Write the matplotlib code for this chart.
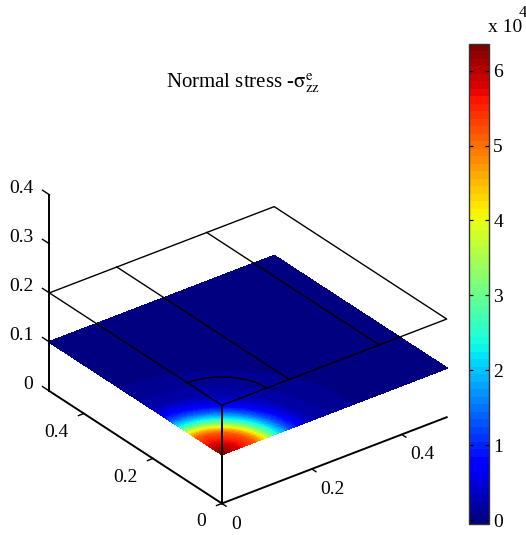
import numpy as np
import matplotlib
matplotlib.use('Agg')
import matplotlib.pyplot as plt

plt.rcParams['font.family'] = ['Liberation Serif', 'DejaVu Serif']
plt.rcParams['mathtext.fontset'] = 'stix'

r_read = [0, 0.027, 0.068, 0.08, 0.092, 0.104, 0.12, 0.145, 0.17, 0.20, 0.25, 0.30, 0.50, 0.71]
stress_read = [6.3, 5.9, 5.2, 4.7, 4.0, 3.15, 2.3, 1.3, 0.6, 0.25, 0.1, 0.04, 0.0, 0.0]

x_ticks = [0, 0.2, 0.4]
y_ticks = [0, 0.2, 0.4]
z_ticks = [0, 0.1, 0.2, 0.3, 0.4]
cbar_ticks = [0, 1, 2, 3, 4, 5, 6]

# outline of the load plane above the surface
plane_z = 0.2
plane_size = 0.5
footing_x = [0.15, 0.35]
arc_radius = 0.1
surface_z = 0.1

W, H = 526, 535
fig = plt.figure(figsize=(W / 100, H / 100), dpi=100)

# same view as matlab default, axes size picked so 1 data unit is about 566 px
side = 447
cx, cy = 242, 312
ax = fig.add_axes(
    [(cx - side / 2) / W, 1 - (cy + side / 2) / H, side / W, side / H],
    projection='3d',
    computed_zorder=False,
)
ax.set_proj_type('ortho')
ax.view_init(elev=30, azim=-127.5)
ax.set_xlim(0, 0.5)
ax.set_ylim(0, 0.5)
ax.set_zlim(0, 0.4)
ax.set_box_aspect((0.5, 0.5, 0.4))
ax.set_xticks([])
ax.set_yticks([])
ax.set_zticks([])
ax.set_axis_off()
ax.patch.set_alpha(0)

cmap = plt.get_cmap('jet', 64)
vmin, vmax = -0.05, 6.355

# fine mesh only to shade between the read values, like interp shading
gx, gy = np.meshgrid(np.linspace(0, 0.5, 170), np.linspace(0, 0.5, 170))
field = np.interp(np.hypot(gx, gy), r_read, stress_read)
ax.plot_surface(
    gx,
    gy,
    np.full(gx.shape, surface_z),
    facecolors=cmap((field - vmin) / (vmax - vmin)),
    rstride=1,
    cstride=1,
    shade=False,
    antialiased=False,
    linewidth=0.6,
    zorder=1,
)

line = dict(color='black', lw=1.0, zorder=3)
axis_line = dict(color='black', lw=1.4, zorder=3)

# plane outline
ax.plot(
    [0, plane_size, plane_size, 0, 0],
    [0, 0, plane_size, plane_size, 0],
    [plane_z] * 5,
    **line,
)
for fx in footing_x:
    ax.plot([fx, fx], [0, plane_size], [plane_z, plane_z], **line)
t = np.linspace(0, np.pi / 2, 40)
ax.plot(arc_radius * np.cos(t), arc_radius * np.sin(t), np.full(t.shape, plane_z), **line)

# axes
ax.plot([0, 0.5], [0, 0], [0, 0], **axis_line)
ax.plot([0, 0], [0, 0.5], [0, 0], **axis_line)
ax.plot([0, 0], [0.5, 0.5], [0, 0.4], **axis_line)
ax.plot([0, 0], [0, 0], [0, plane_z], **axis_line)

for v in x_ticks:
    ax.plot([v, v], [0, -0.012], [0, 0], **line)
    off, dz = (0.04, -0.024) if v == 0 else (0.06, -0.014)
    ax.text(v, -off, dz, f'{v:g}', ha='center', va='center', fontsize=14)
for v in y_ticks:
    ax.plot([0, -0.012], [v, v], [0, 0], **line)
    off, dz = (0.046, -0.02) if v == 0 else (0.062, -0.016)
    ax.text(-off, v, dz, f'{v:g}', ha='center', va='center', fontsize=14)
for v in z_ticks:
    ax.plot([0, 0], [0.5, 0.52], [v, v], **line)
    ax.text(0, 0.546, v - 0.008, f'{v:g}', ha='right', va='center', fontsize=14)

fig.text(
    243.5 / W,
    1 - 83 / H,
    r'Normal stress -$\mathrm{\sigma}^{\mathrm{e}}_{\mathrm{zz}}$',
    ha='center',
    va='center',
    fontsize=15,
)

# colorbar
cax = fig.add_axes([469 / W, 1 - 524 / H, 20 / W, 480 / H])
sm = plt.cm.ScalarMappable(cmap=cmap, norm=plt.Normalize(vmin, vmax))
cb = fig.colorbar(sm, cax=cax)
cb.set_ticks(cbar_ticks)
cb.set_ticklabels([str(v) for v in cbar_ticks])
cax.tick_params(axis='y', direction='in', left=True, right=True, length=3, width=0.9, labelsize=14, pad=3)
cb.outline.set_edgecolor('#333333')
cb.outline.set_linewidth(1.0)

fig.text(488 / W, 1 - 27 / H, 'x 10', ha='left', va='center', fontsize=14)
fig.text(519 / W, 1 - 13 / H, '4', ha='left', va='center', fontsize=12)

fig.savefig('out.png', dpi=100)
